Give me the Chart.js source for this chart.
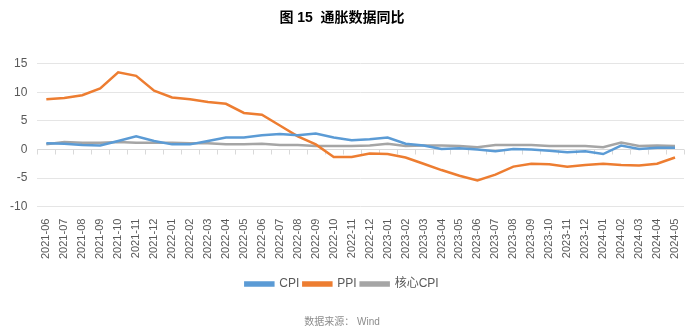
<!DOCTYPE html>
<html lang="zh">
<head>
<meta charset="UTF-8">
<title>通胀数据同比</title>
<script src="https://cdn.jsdelivr.net/npm/chart.js"></script>
<style>
    html, body { margin: 0; padding: 0; background: #fff; }
    #wrap { width: 700px; height: 335px; }
</style>
</head>
<body>
<div id="wrap"><canvas id="chart" width="700" height="335"></canvas></div>
<script>
    // data
    const months = [
        '2021-06','2021-07','2021-08','2021-09','2021-10','2021-11','2021-12',
        '2022-01','2022-02','2022-03','2022-04','2022-05','2022-06','2022-07','2022-08','2022-09','2022-10','2022-11','2022-12',
        '2023-01','2023-02','2023-03','2023-04','2023-05','2023-06','2023-07','2023-08','2023-09','2023-10','2023-11','2023-12',
        '2024-01','2024-02','2024-03','2024-04','2024-05'
    ];
    const cpi = [1.1, 1.0, 0.8, 0.7, 1.5, 2.3, 1.5,
        0.9, 0.9, 1.5, 2.1, 2.1, 2.5, 2.7, 2.5, 2.8, 2.1, 1.6, 1.8,
        2.1, 1.0, 0.7, 0.1, 0.2, 0.0, -0.3, 0.1, 0.0, -0.2, -0.5, -0.3,
        -0.8, 0.7, 0.1, 0.3, 0.3];
    const ppi = [8.8, 9.0, 9.5, 10.7, 13.5, 12.9, 10.3,
        9.1, 8.8, 8.3, 8.0, 6.4, 6.1, 4.2, 2.3, 0.9, -1.3, -1.3, -0.7,
        -0.8, -1.4, -2.5, -3.6, -4.6, -5.4, -4.4, -3.0, -2.5, -2.6, -3.0, -2.7,
        -2.5, -2.7, -2.8, -2.5, -1.4];
    const coreCpi = [0.9, 1.3, 1.2, 1.2, 1.3, 1.2, 1.2,
        1.2, 1.1, 1.1, 0.9, 0.9, 1.0, 0.8, 0.8, 0.6, 0.6, 0.6, 0.7,
        1.0, 0.6, 0.7, 0.7, 0.6, 0.4, 0.8, 0.8, 0.8, 0.6, 0.6, 0.6,
        0.4, 1.2, 0.6, 0.7, 0.6];
    const seriesNames = ['CPI', 'PPI', '核心CPI'];
    const seriesColors = ['#5B9BD5', '#ED7D31', '#A5A5A5'];
    const yTicks = [-10, -5, 0, 5, 10, 15];

    const FONT = "'Liberation Sans', 'Noto Sans CJK SC', Arial, sans-serif";

    // small tick marks along the zero line (category boundaries)
    const zeroTicks = {
        id: 'zeroTicks',
        beforeDatasetsDraw(chart) {
            const x = chart.scales.x, y = chart.scales.y;
            const y0 = Math.round(y.getPixelForValue(0)) + 0.5;
            const ctx = chart.ctx;
            ctx.save();
            ctx.strokeStyle = '#d9d9d9';
            ctx.lineWidth = 1;
            ctx.beginPath();
            ctx.moveTo(x.left, y0);
            ctx.lineTo(x.right, y0);
            const step = (x.getPixelForValue(1) - x.getPixelForValue(0));
            for (let i = 0; i <= months.length; i++) {
                const px = Math.round(x.getPixelForValue(0) - step / 2 + i * step) + 0.5;
                ctx.moveTo(px, y0);
                ctx.lineTo(px, y0 + 5);
            }
            ctx.stroke();
            ctx.restore();
        }
    };

    const values = [cpi, ppi, coreCpi];
    new Chart(document.getElementById('chart'), {
        type: 'line',
        data: {
            labels: months,
            datasets: seriesNames.map((name, i) => ({
                label: name,
                data: values[i],
                borderColor: seriesColors[i],
                backgroundColor: seriesColors[i],
                borderWidth: 2.5,
                pointRadius: 0,
                tension: 0
            }))
        },
        options: {
            responsive: false,
            animation: false,
            layout: { padding: { left: 0, right: 16, top: 0, bottom: 0 } },
            plugins: {
                title: {
                    display: true,
                    text: '图 15  通胀数据同比',
                    font: { family: FONT, size: 14, weight: 'bold' },
                    color: '#000',
                    padding: { top: 10, bottom: 37 }
                },
                subtitle: {
                    display: true,
                    position: 'bottom',
                    text: '数据来源： Wind',
                    font: { family: FONT, size: 10 },
                    color: '#8c8c8c',
                    padding: { top: 16, bottom: 7 }
                },
                legend: {
                    position: 'bottom',
                    labels: {
                        boxWidth: 28,
                        boxHeight: 3,
                        padding: 4,
                        font: { family: FONT, size: 12 },
                        color: '#595959'
                    }
                },
                tooltip: { enabled: false }
            },
            scales: {
                x: {
                    offset: true,
                    grid: { display: false },
                    border: { display: false },
                    afterFit(scale) { scale.height += 11; },
                    ticks: {
                        minRotation: 90,
                        maxRotation: 90,
                        autoSkip: false,
                        font: { family: FONT, size: 11 },
                        color: '#595959',
                        padding: 4
                    }
                },
                y: {
                    min: -10,
                    max: 15,
                    afterBuildTicks(scale) { scale.ticks = yTicks.map(v => ({ value: v })); },
                    grid: { color: '#e5e5e5', drawTicks: false, lineWidth: 1 },
                    border: { display: false },
                    ticks: {
                        font: { family: FONT, size: 12 },
                        color: '#595959',
                        padding: 10
                    }
                }
            }
        },
        plugins: [zeroTicks]
    });
</script>
</body>
</html>
